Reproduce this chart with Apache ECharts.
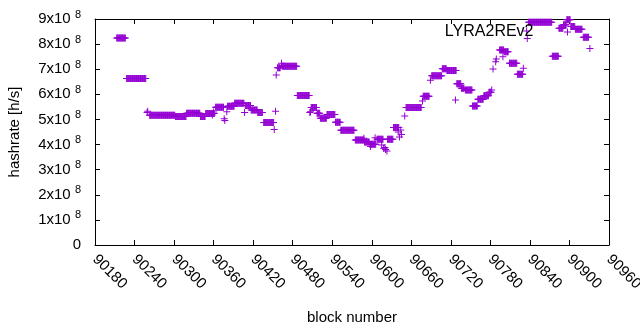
<!DOCTYPE html>
<html>
<head>
<meta charset="utf-8">
<script src="https://cdn.jsdelivr.net/npm/echarts@6.0.0/dist/echarts.min.js"></script>
<style>
  html, body { margin: 0; padding: 0; background: #fff; }
  #chart { width: 640px; height: 330px; }
</style>
</head>
<body>
<div id="chart"></div>
<script>
// hashrate, as runs of blocks with the same value (x 1e8 h/s)
var runStart = [90213, 90228, 90259, 90260, 90263, 90302, 90319, 90340, 90348, 90358, 90360, 90363, 90376, 90377, 90380,
  90381, 90392, 90407, 90408, 90417, 90427, 90436, 90452, 90454, 90455, 90457, 90463, 90464, 90487, 90506, 90507,
  90508, 90517, 90522, 90532, 90545, 90553, 90575, 90588, 90589, 90597, 90598, 90605, 90608, 90615, 90618, 90620,
  90621, 90623, 90624, 90633, 90640, 90642, 90644, 90645, 90650, 90652, 90677, 90678, 90689, 90691, 90707, 90714,
  90727, 90729, 90736, 90742, 90753, 90761, 90770, 90778, 90782, 90784, 90788, 90789, 90794, 90799, 90801, 90809,
  90821, 90830, 90835, 90836, 90838, 90874, 90884, 90891, 90896, 90902, 90909, 90921, 90931]
var runEnd = [90226, 90257, 90259, 90260, 90301, 90318, 90339, 90347, 90361, 90358, 90360, 90375, 90376, 90377, 90380,
  90391, 90406, 90407, 90416, 90426, 90434, 90451, 90452, 90454, 90455, 90461, 90463, 90486, 90505, 90506, 90507,
  90516, 90521, 90531, 90544, 90552, 90573, 90588, 90588, 90596, 90606, 90598, 90605, 90617, 90615, 90618, 90620,
  90621, 90623, 90632, 90641, 90640, 90642, 90644, 90645, 90650, 90675, 90677, 90687, 90689, 90706, 90713, 90728,
  90727, 90735, 90740, 90752, 90760, 90769, 90777, 90781, 90782, 90784, 90788, 90789, 90800, 90799, 90807, 90820,
  90829, 90830, 90835, 90836, 90873, 90883, 90890, 90895, 90901, 90908, 90919, 90929, 90931]
var runValue = [8.24, 6.63, 5.28, 5.33, 5.17, 5.12, 5.25, 5.12, 5.24, 5.18, 5.30, 5.49, 5.03, 4.96, 5.31,
  5.53, 5.64, 5.28, 5.56, 5.38, 5.28, 4.88, 4.60, 5.33, 6.77, 7.06, 7.24, 7.12, 5.95, 5.28, 5.31,
  5.48, 5.25, 5.05, 5.20, 4.89, 4.57, 4.18, 4.25, 4.10, 4.01, 3.92, 4.27, 4.21, 3.98, 3.85, 3.88,
  3.80, 3.74, 4.21, 4.68, 4.50, 4.30, 4.58, 4.40, 5.14, 5.48, 5.73, 5.92, 6.56, 6.74, 7.02, 6.95,
  5.77, 6.42, 6.24, 6.17, 5.54, 5.80, 5.94, 6.08, 6.17, 7.01, 7.30, 7.41, 7.77, 7.50, 7.70, 7.24,
  6.80, 7.04, 8.52, 8.22, 8.87, 7.52, 8.63, 8.77, 8.97, 8.70, 8.59, 8.27, 7.83]

var seriesName = 'LYRA2REv2'
var xTitle = 'block number'
var yTitle = 'hashrate [h/s]'

var plus = 'path://M3,0H4V3H7V4H4V7H3V4H0V3H3Z'
var font = 'Liberation Sans, Arial, sans-serif'

// one point per block
var points = []
runStart.forEach(function (s, i) {
  for (var b = s; b <= runEnd[i]; b++) {
    points.push([b, runValue[i] * 1e8])
  }
})

function yLabel (v) {
  if (v === 0) return '0'
  return '{m|' + Math.round(v / 1e8) + 'x10} {s|8}'
}

var tickStyle = { show: true, inside: true, length: 5, lineStyle: { color: '#000', width: 1 } }
var lineStyle = { show: true, onZero: false, lineStyle: { color: '#000', width: 1 } }

var option = {
  animation: false,
  backgroundColor: '#fff',
  grid: {
    left: 95,
    right: 31,
    top: 19,
    bottom: 85,
    containLabel: false,
    outerBoundsMode: 'none'
  },
  legend: {
    right: 64,
    top: 19,
    align: 'right',
    itemWidth: 58,
    itemHeight: 7,
    textStyle: { color: '#000', fontSize: 16, fontFamily: font },
    data: [{ name: seriesName, icon: plus }]
  },
  xAxis: [{
    type: 'value',
    min: 90180,
    max: 90960,
    interval: 60,
    name: xTitle,
    nameLocation: 'middle',
    nameGap: 65,
    nameTextStyle: { color: '#000', fontSize: 15, fontFamily: font },
    axisLine: lineStyle,
    axisTick: tickStyle,
    axisLabel: {
      rotate: -45,
      margin: 12,
      color: '#000',
      fontSize: 15,
      fontFamily: font,
      hideOverlap: false,
      formatter: function (v) { return String(v) }
    },
    splitLine: { show: false }
  }, {
    type: 'value',
    position: 'top',
    min: 90180,
    max: 90960,
    interval: 60,
    axisLine: lineStyle,
    axisTick: tickStyle,
    axisLabel: { show: false },
    splitLine: { show: false }
  }],
  yAxis: [{
    type: 'value',
    min: 0,
    max: 9e8,
    interval: 1e8,
    name: yTitle,
    nameLocation: 'middle',
    nameGap: 73,
    nameTextStyle: { color: '#000', fontSize: 15, fontFamily: font },
    axisLine: lineStyle,
    axisTick: tickStyle,
    axisLabel: {
      margin: 14,
      color: '#000',
      fontSize: 15,
      fontFamily: font,
      formatter: yLabel,
      rich: {
        m: { color: '#000', fontSize: 15, fontFamily: font },
        s: { color: '#000', fontSize: 11, fontFamily: font, padding: [0, 0, 9, 0] }
      }
    },
    splitLine: { show: false }
  }, {
    type: 'value',
    position: 'right',
    min: 0,
    max: 9e8,
    interval: 1e8,
    axisLine: lineStyle,
    axisTick: tickStyle,
    axisLabel: { show: false },
    splitLine: { show: false }
  }],
  series: [{
    name: seriesName,
    type: 'scatter',
    symbol: plus,
    symbolSize: 7,
    itemStyle: { color: '#9400d3', opacity: 1 },
    emphasis: { disabled: true },
    data: points
  }]
}

var myChart = echarts.init(document.getElementById('chart'), null, { renderer: 'canvas' })
myChart.setOption(option)
</script>
</body>
</html>
